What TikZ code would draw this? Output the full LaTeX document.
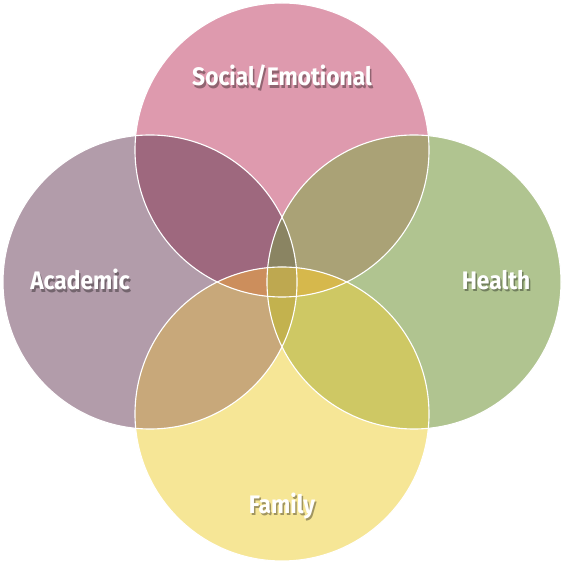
\documentclass[tikz,border=0pt]{standalone}
\usepackage{fontspec}
\setmainfont{Fira Sans}

\definecolor{socialc}{RGB}{222,154,174}
\definecolor{academicc}{RGB}{178,156,170}
\definecolor{healthc}{RGB}{176,196,144}
\definecolor{familyc}{RGB}{246,230,150}
\definecolor{tlc}{RGB}{158,104,126}
\definecolor{trc}{RGB}{170,162,118}
\definecolor{blc}{RGB}{200,168,122}
\definecolor{brc}{RGB}{206,200,100}
\definecolor{lrtc}{RGB}{138,132,98}
\definecolor{lrbc}{RGB}{195,178,78}
\definecolor{tblc}{RGB}{204,142,92}
\definecolor{tbrc}{RGB}{214,184,76}
\definecolor{allc}{RGB}{190,168,80}

\tikzset{
	rim/.style={draw=white, line width=.8pt},
	lbl/.style={text=white, font=\fontsize{18}{21}\selectfont\bfseries, inner sep=0pt},
}

% label with a soft shadow: name, position, text, background colour
\newcommand{\venntext}[4]{%
	\node[lbl] (#1) at (#2) {\scalebox{.9}[1]{%
		\makebox[0pt][l]{\hspace{1.2pt}\raisebox{-1.8pt}{\textcolor{#4!65!black}{#3}}}#3}};
}

\begin{document}
\begin{tikzpicture}[x=.025cm, y=.025cm]
	\def\r{147}
	\useasboundingbox (0,0) rectangle (561,563);

	\coordinate (T) at (282,413);
	\coordinate (L) at (150,281);
	\coordinate (R) at (414,281);
	\coordinate (B) at (282,149);

	% SINGLE CIRCLES
	\fill[socialc] (T) circle (\r);
	\fill[academicc] (L) circle (\r);
	\fill[healthc] (R) circle (\r);
	\fill[familyc] (B) circle (\r);

	% OVERLAPS WITH TOP
	\begin{scope}
		\clip (T) circle (\r);
		\fill[tlc] (L) circle (\r);
		\fill[trc] (R) circle (\r);
		\begin{scope}
			\clip (L) circle (\r);
			\fill[lrtc] (R) circle (\r);
		\end{scope}
	\end{scope}

	% OVERLAPS WITH BOTTOM
	\begin{scope}
		\clip (B) circle (\r);
		\fill[blc] (L) circle (\r);
		\fill[brc] (R) circle (\r);
		\begin{scope}
			\clip (L) circle (\r);
			\fill[lrbc] (R) circle (\r);
		\end{scope}
	\end{scope}

	% TOP AND BOTTOM
	\begin{scope}
		\clip (T) circle (\r);
		\clip (B) circle (\r);
		\fill[tblc] (L) circle (\r);
		\fill[tbrc] (R) circle (\r);
		\begin{scope}
			\clip (L) circle (\r);
			\fill[allc] (R) circle (\r);
		\end{scope}
	\end{scope}

	% RIMS
	\foreach \c in {T,L,R,B}
		\draw[rim] (\c) circle (\r);

	% LABELS
	\venntext{social}{282,485}{Social/Emotional}{socialc}
	\venntext{academic}{80,282}{Academic}{academicc}
	\venntext{health}{496,282}{Health}{healthc}
	\venntext{family}{282,56}{Family}{familyc}
\end{tikzpicture}
\end{document}
